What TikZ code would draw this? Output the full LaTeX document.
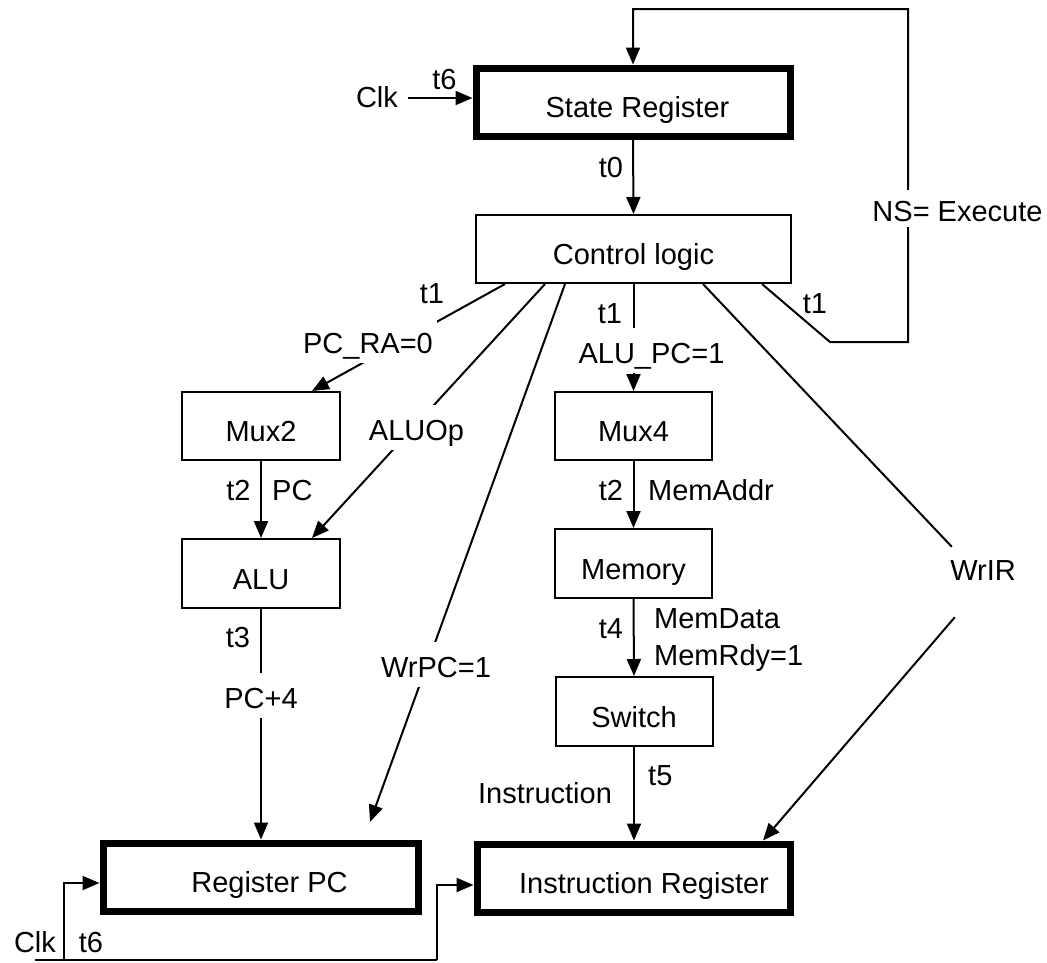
\documentclass[tikz,border=0pt]{standalone}
\usepackage{fontspec}
\setmainfont{Liberation Sans}
\usetikzlibrary{arrows.meta,calc}
\begin{document}
\begin{tikzpicture}[x=1pt,y=-1pt,
  every node/.style={font=\fontsize{29}{35}\selectfont},
  conn/.style={line width=2pt},
  arr/.style={conn,-{Triangle[length=17pt,width=14pt]}},
  blk/.style={draw,line width=2pt,minimum width=157pt,minimum height=68pt,
              inner sep=0pt,text height=31pt,text depth=0pt},
  reg/.style={blk,line width=7pt,minimum width=314pt},
  lbl/.style={anchor=base,inner sep=0pt},
  lblw/.style={anchor=base west,inner sep=0pt},
  cut/.style={anchor=base,fill=white,inner xsep=4pt,inner ysep=0pt,
              text height=35pt,text depth=10pt},
]
\useasboundingbox (0,0) rectangle (1047,962);

% blocks
\node[reg] (sr) at (633,102) {\hspace*{9pt}State Register};
\node[blk,minimum width=315pt] (cl) at (633.5,249) {Control logic};
\node[blk,minimum width=158pt] (mux2) at (261,426) {Mux2};
\node[blk,minimum width=158pt,minimum height=69pt] (alu) at (261,573.5) {ALU};
\node[blk] (mux4) at (633.5,426) {Mux4};
\node[blk,minimum height=69pt] (mem) at (633.5,563.5) {Memory};
\node[blk,minimum height=69pt] (sw) at (634,711.5) {Switch};
\node[reg,minimum width=315pt] (regpc) at (260.5,877) {\hspace*{18pt}Register PC};
\node[reg,minimum width=313pt] (ir) at (633.5,878) {\hspace*{21pt}Instruction Register};

% helper points
\coordinate (clkstart) at (408,98);
\coordinate (fb1) at (830,342);
\coordinate (fb2) at (908,342);
\coordinate (fb3) at (908,9);
\coordinate (fb4) at (633,9);
\coordinate (wrpcend) at (370,822);
\coordinate (ck0) at (35,960);
\coordinate (ck1) at (64,960);
\coordinate (ck2) at (437,960);
\node[minimum width=76pt,minimum height=70pt,inner sep=0pt] (wrgap) at (985,582) {};

% vertical data path
\draw[arr] (clkstart) -- (clkstart -| sr.west);
\draw[arr] (sr.south) -- (cl.north);
\draw[arr] (cl.south) -- (mux4.north);
\draw[arr] (mux2.south) -- (alu.north);
\draw[arr] (alu.south) -- (alu.south |- regpc.north);
\draw[arr] (mux4.south) -- (mem.north);
\draw[arr] (mem.south) -- (sw.north);
\draw[arr] (sw.south) -- (sw.south |- ir.north);

% control signals
\draw[arr] ($(cl.south west)+(30,0)$) -- ($(mux2.north)+(51,0)$);
\draw[arr] ($(cl.south west)+(70,0)$) -- ($(alu.north)+(51,0)$);
\draw[arr] ($(cl.south west)+(90,0)$) -- (wrpcend);
\draw[conn] ($(cl.south west)+(228,0)$) -- (wrgap);
\draw[arr] (wrgap) -- ($(ir.north)+(129.5,0)$);
\draw[arr] ($(cl.south west)+(287,0)$) -- (fb1) -- (fb2) -- (fb3) -- (fb4) -- (sr.north);

% clock
\draw[conn] (ck0) -- (ck2);
\draw[arr] (ck1) |- ($(regpc.west)+(0,6)$);
\draw[arr] (ck2) |- ($(ir.west)+(0,7)$);

% labels that interrupt lines
\node[cut] (lpcra) at (368,353) {PC\_RA=0};
\node[cut] (laluop) at (416.5,440) {ALUOp};
\node[cut] (lwrpc) at (436,677) {WrPC=1};
\node[cut] (lalupc) at (651.5,363) {ALU\_PC=1};
\node[cut] (lpc4) at (261,708) {PC+4};
\node[cut,text height=31pt,text depth=6pt] (lns) at (957.5,221) {NS= Execute};

% plain labels
\node[lbl] (lclk1) at (377,107) {Clk};
\node[lbl] (lt6a) at (444.5,89) {t6};
\node[lbl] (lt0) at (611,177) {t0};
\node[lbl] (lt1a) at (432,303) {t1};
\node[lbl] (lt1b) at (610,323) {t1};
\node[lbl] (lt1c) at (815,313) {t1};
\node[lbl] (lt2a) at (238.5,500) {t2};
\node[lblw] (lpc) at (272,500) {PC};
\node[lbl] (lt3) at (238,647) {t3};
\node[lbl] (lt2b) at (611,500) {t2};
\node[lblw] (lmaddr) at (648,500) {MemAddr};
\node[lbl] (lt4) at (611,638) {t4};
\node[lblw] (lmdata) at (654,628) {MemData};
\node[lblw] (lmrdy) at (654,665) {MemRdy=1};
\node[lblw] (lt5) at (648,785) {t5};
\node[lbl] (linstr) at (545,803) {Instruction};
\node[lbl] (lwrir) at (983,580) {WrIR};
\node[lbl] (lclk2) at (35,952) {Clk};
\node[lbl] (lt6b) at (91,952) {t6};
\end{tikzpicture}
\end{document}
